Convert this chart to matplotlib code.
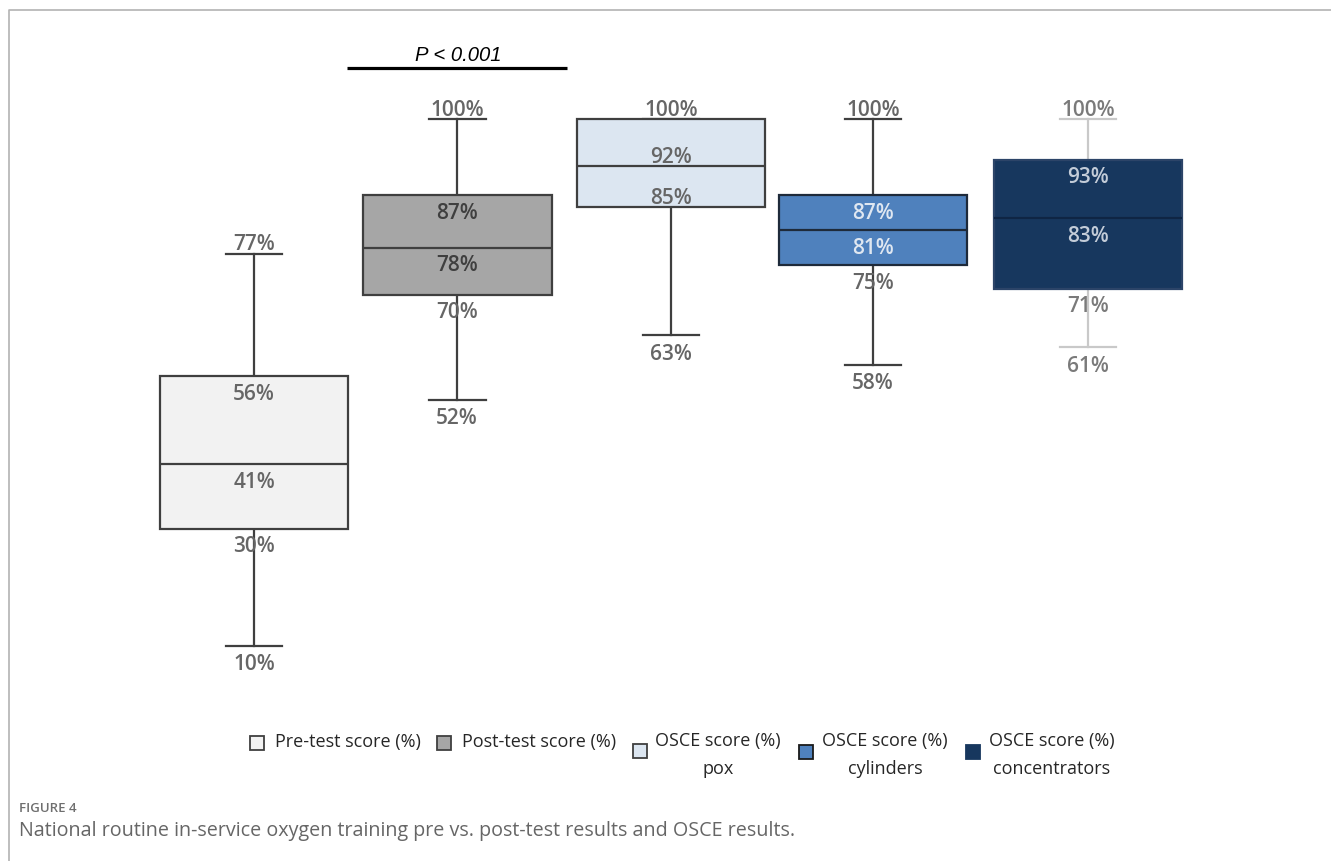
import matplotlib
matplotlib.use("Agg")
import matplotlib.pyplot as plt
from matplotlib.patches import Rectangle
from matplotlib.lines import Line2D

# ---- data -------------------------------------------------------------
groups = ["Pre-test score (%)", "Post-test score (%)",
          "OSCE score (%)\npox", "OSCE score (%)\ncylinders",
          "OSCE score (%)\nconcentrators"]
minimum = [10, 52, 63, 58, 61]
q1 = [30, 70, 85, 75, 71]
median = [41, 78, 92, 81, 83]
q3 = [56, 87, 100, 87, 93]
maximum = [77, 100, 100, 100, 100]
p_label = "P < 0.001"
caption_tag = "FIGURE 4"
caption = ("National routine in-service oxygen training pre vs. post-test "
           "results and OSCE results.")

# ---- styles -----------------------------------------------------------
positions = [0, 0.974, 2.0, 2.969, 4.0]
fills = ["#f2f2f2", "#a6a6a6", "#dce6f1", "#4f81bd", "#17375e"]
edges = ["#3f3f3f", "#3f3f3f", "#3f3f3f", "#1e2a3a", "#2c4468"]
medline = ["#3f3f3f", "#3f3f3f", "#3f3f3f", "#1e2a3a", "#0f2544"]
whisk = ["#3f3f3f", "#3f3f3f", "#3f3f3f", "#3f3f3f", "#c9c9c9"]
inner_col = ["#666666", "#3f3f3f", "#666666", "#dfe7f1", "#c3ccd8"]
outer_col = ["#666666", "#666666", "#666666", "#666666", "#7a7a7a"]
label_above = [False, False, True, False, False]

W, H, DPI = 1331, 861, 100
fig = plt.figure(figsize=(W / DPI, H / DPI), dpi=DPI)
fig.patch.set_facecolor("white")


def fx(px):
    return px / W


def fy(py):
    return 1 - py / H


# plotting area: x in [-0.5, 4.5], y in [0, 115] %
ax = fig.add_axes([fx(149.75), fy(704), 1042.5 / W, (704 - 31.25) / H])
ax.set_xlim(-0.5, 4.5)
ax.set_ylim(0, 115)
ax.axis("off")

stats = [dict(whislo=a, q1=b, med=c, q3=d, whishi=e)
         for a, b, c, d, e in zip(minimum, q1, median, q3, maximum)]
bp = ax.bxp(stats, positions=positions, widths=0.906, capwidths=0.273,
            patch_artist=True, showfliers=False, manage_ticks=False)

for i in range(len(groups)):
    box = bp["boxes"][i]
    box.set_facecolor(fills[i])
    box.set_edgecolor(edges[i])
    box.set_linewidth(1.6)
    box.set_zorder(3)
    bp["medians"][i].set_color(medline[i])
    bp["medians"][i].set_linewidth(1.6)
    bp["medians"][i].set_zorder(4)
    for ln in bp["whiskers"][2 * i:2 * i + 2] + bp["caps"][2 * i:2 * i + 2]:
        ln.set_color(whisk[i])
        ln.set_linewidth(1.6)
        ln.set_zorder(2)

lab_font = dict(family=["Open Sans", "DejaVu Sans"], size=15,
                weight="semibold", ha="center", va="center", zorder=6)


def put(x, v, dy, color):
    ax.annotate(f"{v}%", (x, v), xytext=(0, dy), textcoords="offset pixels",
                color=color, **lab_font)


for i in range(len(groups)):
    x = positions[i]
    put(x, maximum[i], 9, outer_col[i])
    if q3[i] != maximum[i]:
        put(x, q3[i], -18, inner_col[i])
    if label_above[i]:
        put(x, median[i], 8, inner_col[i])
        put(x, q1[i], 8, inner_col[i])
    else:
        put(x, median[i], -18, inner_col[i])
        put(x, q1[i], -18, outer_col[i])
    put(x, minimum[i], -19, outer_col[i])

# significance bracket between pre- and post-test
ax.plot([0.446, 1.501], [108.7, 108.7], color="black", lw=2.3,
        solid_capstyle="butt", clip_on=False)
ax.text(0.98, 110.9, p_label, ha="center", va="center", fontsize=14.6,
        style="italic", family=["Liberation Sans", "DejaVu Sans"])

# ---- legend -----------------------------------------------------------
leg_font = dict(family=["Open Sans", "DejaVu Sans"], size=13,
                color="#262626")
marker_xy = [(257, 743), (444, 743), (640, 751), (806, 752), (973, 752)]
marker_edge = ["#3f3f3f", "#3f3f3f", "#3f3f3f", "#1a1a1a", "#17375e"]
ms = 14
for i, (mx, my) in enumerate(marker_xy):
    fig.add_artist(Rectangle((fx(mx - ms / 2), fy(my + ms / 2)), ms / W,
                             ms / H, transform=fig.transFigure,
                             facecolor=fills[i], edgecolor=marker_edge[i],
                             lw=1.3))
fig.text(fx(275), fy(742), groups[0], ha="left", va="center", **leg_font)
fig.text(fx(462), fy(742), groups[1], ha="left", va="center", **leg_font)
for cx, g in zip([718, 885, 1052], groups[2:]):
    fig.text(fx(cx), fy(755), g, ha="center", va="center",
             multialignment="center", linespacing=1.68, **leg_font)

# ---- caption and frame ------------------------------------------------
fig.text(fx(19), fy(808), caption_tag, ha="left", va="center", fontsize=9.5,
         weight="semibold", color="#6f6f6f",
         family=["Open Sans", "DejaVu Sans"])
fig.text(fx(19), fy(831), caption, ha="left", va="center", fontsize=14.2,
         color="#666666", family=["Open Sans", "DejaVu Sans"])
fig.add_artist(Line2D([fx(9), fx(9), 1], [0, fy(10), fy(10)],
                      transform=fig.transFigure, color="#b3b3b3", lw=1.2))

fig.savefig("out.png", dpi=DPI, facecolor="white")
